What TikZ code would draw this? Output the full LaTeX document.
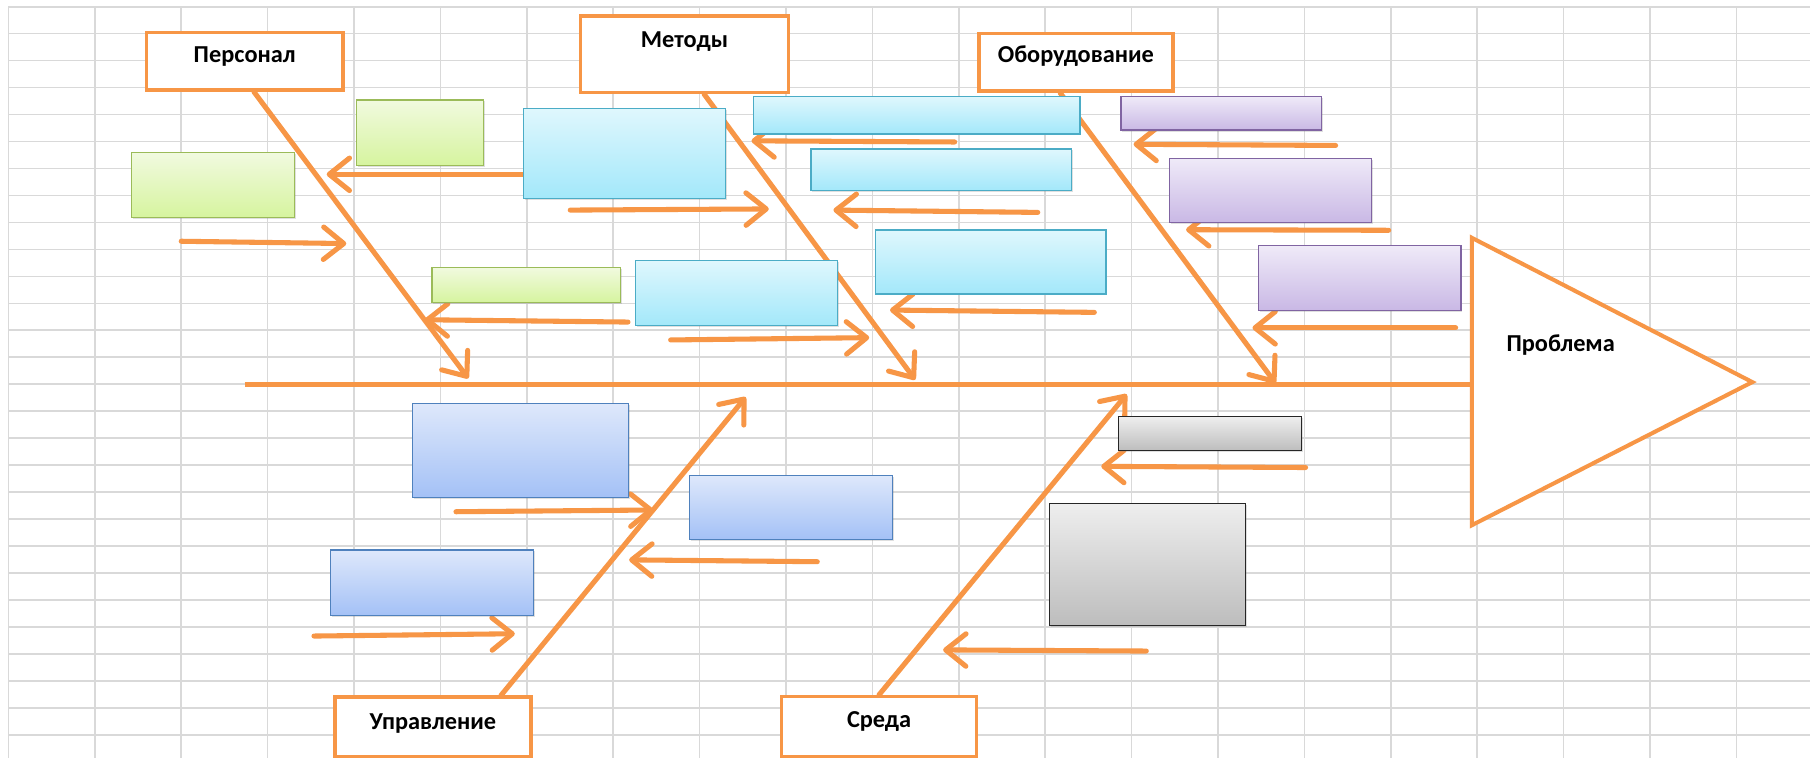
\documentclass[tikz,border=0pt]{standalone}
\usepackage{fontspec}
\setmainfont{Carlito}
\usetikzlibrary{arrows.meta,shadows}
\definecolor{fishorange}{HTML}{F79646}
\definecolor{gridgray}{HTML}{D9D9D9}
\definecolor{greenline}{HTML}{9BBB59}
\definecolor{greentop}{HTML}{F1FADF}
\definecolor{greenbot}{HTML}{D6F49F}
\definecolor{cyanline}{HTML}{4BACC6}
\definecolor{cyantop}{HTML}{DFF7FD}
\definecolor{cyanbot}{HTML}{A3E8FA}
\definecolor{violetline}{HTML}{8064A2}
\definecolor{violettop}{HTML}{EFEAF8}
\definecolor{violetbot}{HTML}{C9B8E5}
\definecolor{blueline}{HTML}{4F81BD}
\definecolor{bluetop}{HTML}{DEE8FB}
\definecolor{bluebot}{HTML}{A4C1F6}
\definecolor{grayline}{HTML}{262626}
\definecolor{graytop}{HTML}{EEEEEE}
\definecolor{graybot}{HTML}{BDBDBD}
\begin{document}
\begin{tikzpicture}[x=0.02cm,y=-0.02cm,
    cat/.style={draw=fishorange,line width=1.8pt,fill=white,inner sep=0pt,
        font=\bfseries\fontsize{12}{14}\selectfont,text height=8pt},
    cause/.style={inner sep=0pt,line width=0.6pt,
        drop shadow={opacity=0.25,shadow xshift=0.7pt,shadow yshift=-0.7pt}},
    greenbox/.style={cause,draw=greenline,top color=greentop,bottom color=greenbot},
    cyanbox/.style={cause,draw=cyanline,top color=cyantop,bottom color=cyanbot},
    violetbox/.style={cause,draw=violetline,top color=violettop,bottom color=violetbot},
    bluebox/.style={cause,draw=blueline,top color=bluetop,bottom color=bluebot},
    graybox/.style={cause,draw=grayline,top color=graytop,bottom color=graybot},
    arr/.style={draw=fishorange,line width=2.5pt,line cap=round,
        -{Straight Barb[length=10pt,width=16pt,round]}},
    spine/.style={draw=fishorange,line width=2.6pt},
    tri/.style={draw=fishorange,line width=2pt,fill=white}]

    \fill[white] (0,0) rectangle (1568,656.6);
    \useasboundingbox (0,0) rectangle (1568,656.6);

    \foreach \k in {0,...,20}
        \draw[gridgray,line width=0.8pt] (7.3+74.85*\k,5.8) -- (7.3+74.85*\k,656.6);
    \foreach \k in {0,...,27}
        \draw[gridgray,line width=0.8pt] (7.3,5.8+23.36*\k) -- (1568,5.8+23.36*\k);

    \node[cat,minimum width=3.4cm,minimum height=1cm,text depth=6.3pt] (P) at (212,53) {Персонал};
    \node[cat,minimum width=3.6cm,minimum height=1.32cm,text depth=14.8pt] (M) at (593,47) {Методы};
    \node[cat,minimum width=3.36cm,minimum height=1cm,text depth=8pt] (O) at (932,54) {Оборудование};
    \node[cat,minimum width=3.4cm,minimum height=1.04cm,text depth=5.7pt] (U) at (375,630) {Управление};
    \node[cat,minimum width=3.38cm,minimum height=1.04cm,text depth=6.8pt] (S) at (761.5,629.5) {Среда};

    \coordinate (L) at (212,333);
    \coordinate (R) at (1275,333);
    \coordinate (Pt) at (405.7,327.8);
    \coordinate (Mt) at (792.8,329);
    \coordinate (Ot) at (1105,332);
    \coordinate (Ut) at (646,344);
    \coordinate (St) at (976,341.5);

    \draw[spine] (L) -- (R);
    \draw[arr] ([xshift=0.16cm]P.south) -- (Pt);
    \draw[arr] ([xshift=0.34cm]M.south) -- (Mt);
    \draw[arr] ([xshift=-0.27cm]O.south) -- (Ot);
    \draw[arr] ([xshift=1.18cm]U.north) -- (Ut);
    \draw[arr] (S.north) -- (St);

    \coordinate (Ps1) at (460,151);   \coordinate (Pe1) at (283,151);
    \coordinate (Ps2) at (157,209);   \coordinate (Pe2) at (300,211);
    \coordinate (Ps3) at (544,279);   \coordinate (Pe3) at (368,277);
    \coordinate (Ms1) at (494,182);   \coordinate (Me1) at (666,181);
    \coordinate (Ms2) at (827,123);   \coordinate (Me2) at (651,122);
    \coordinate (Ms3) at (899,184);   \coordinate (Me3) at (722,182);
    \coordinate (Ms4) at (581,294.5); \coordinate (Me4) at (753,292.5);
    \coordinate (Ms5) at (948,270.6); \coordinate (Me5) at (771,268.6);
    \coordinate (Os1) at (1157,126);  \coordinate (Oe1) at (982,125);
    \coordinate (Os2) at (1203,199.5);\coordinate (Oe2) at (1027.5,199);
    \coordinate (Os3) at (1261,284);  \coordinate (Oe3) at (1085,284);
    \coordinate (Us1) at (395,443.3); \coordinate (Ue1) at (566,441.8);
    \coordinate (Us2) at (708,486.6); \coordinate (Ue2) at (545,485);
    \coordinate (Us3) at (272,551);   \coordinate (Ue3) at (446,549);
    \coordinate (Ss1) at (1131,405);  \coordinate (Se1) at (954,404);
    \coordinate (Ss2) at (993,564);   \coordinate (Se2) at (817,563);

    \draw[arr] (Ps1) -- (Pe1);
    \draw[arr] (Ps2) -- (Pe2);
    \draw[arr] (Ps3) -- (Pe3);
    \draw[arr] (Ms1) -- (Me1);
    \draw[arr] (Ms2) -- (Me2);
    \draw[arr] (Ms3) -- (Me3);
    \draw[arr] (Ms4) -- (Me4);
    \draw[arr] (Ms5) -- (Me5);
    \draw[arr] (Os1) -- (Oe1);
    \draw[arr] (Os2) -- (Oe2);
    \draw[arr] (Os3) -- (Oe3);
    \draw[arr] (Us1) -- (Ue1);
    \draw[arr] (Us2) -- (Ue2);
    \draw[arr] (Us3) -- (Ue3);
    \draw[arr] (Ss1) -- (Se1);
    \draw[arr] (Ss2) -- (Se2);

    \node[greenbox,minimum width=2.19cm,minimum height=1.13cm] (P1) at (363.8,114.8) {};
    \node[greenbox,minimum width=2.83cm,minimum height=1.12cm] (P2) at (184.5,160.3) {};
    \node[greenbox,minimum width=3.27cm,minimum height=0.61cm] (P3) at (455.9,246.8) {};

    \node[cyanbox,minimum width=3.5cm,minimum height=1.56cm] (M1) at (541,132.9) {};
    \node[cyanbox,minimum width=5.65cm,minimum height=0.65cm] (M2) at (794.3,99.9) {};
    \node[cyanbox,minimum width=4.51cm,minimum height=0.72cm] (M3) at (815.3,147.1) {};
    \node[cyanbox,minimum width=3.99cm,minimum height=1.11cm] (M4) at (858.3,227) {};
    \node[cyanbox,minimum width=3.5cm,minimum height=1.12cm] (M5) at (638.2,253.7) {};

    \node[violetbox,minimum width=3.48cm,minimum height=0.58cm] (O1) at (1058,98.2) {};
    \node[violetbox,minimum width=3.5cm,minimum height=1.12cm] (O2) at (1100.5,165) {};
    \node[violetbox,minimum width=3.51cm,minimum height=1.12cm] (O3) at (1177.9,241) {};

    \node[bluebox,minimum width=3.75cm,minimum height=1.63cm] (U1) at (450.8,390.1) {};
    \node[bluebox,minimum width=3.51cm,minimum height=1.11cm] (U2) at (685.2,439.4) {};
    \node[bluebox,minimum width=3.51cm,minimum height=1.13cm] (U3) at (374.3,504.7) {};

    \node[graybox,minimum width=3.18cm,minimum height=0.59cm] (S1) at (1048.3,375.7) {};
    \node[graybox,minimum width=3.4cm,minimum height=2.12cm] (S2) at (993.9,489) {};

    \coordinate (T1) at (1275,206);
    \coordinate (T2) at (1275,455);
    \coordinate (T3) at (1518,331);
    \draw[tri] (T1) -- (T3) -- (T2) -- cycle;
    \node[font=\bfseries\fontsize{12}{14}\selectfont] (Q) at (1352,299) {Проблема};

\end{tikzpicture}
\end{document}
